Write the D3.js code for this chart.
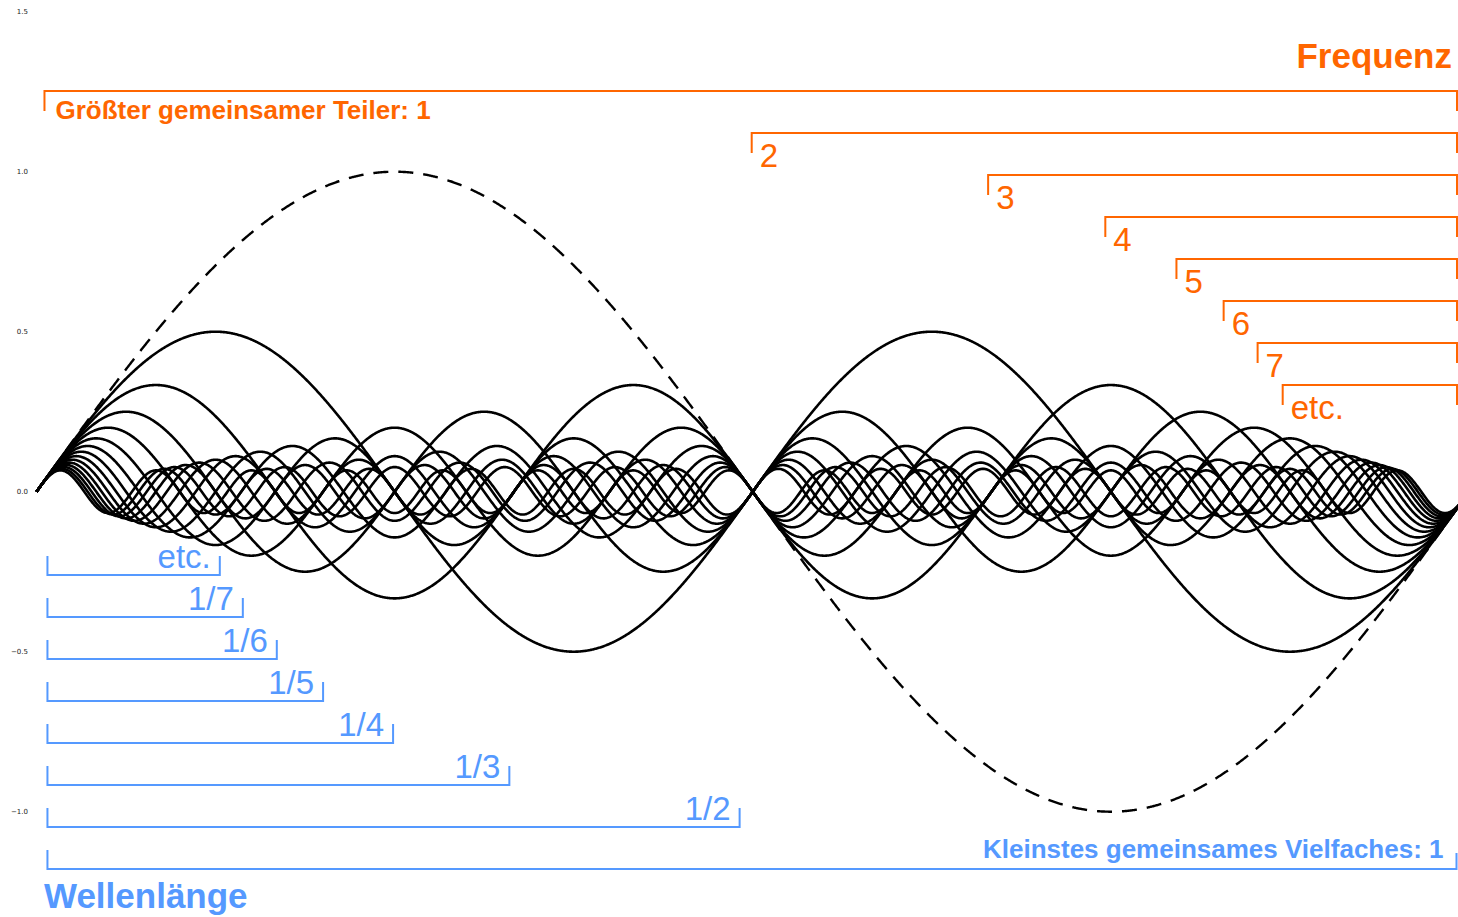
<!DOCTYPE html>
<html><head><meta charset="utf-8">
<script src="https://cdn.jsdelivr.net/npm/d3@7"></script>
<style>body{margin:0;background:#fff;overflow:hidden} svg{display:block}</style>
</head><body>
<script>
// ---- data ----
const harmonics = [1,2,3,4,5,6,7,8,9,10,11,12,13,14,15];   // y = sin(n x) / n
const yTicks = [1.5, 1.0, 0.5, 0.0, -0.5, -1.0];
const freqLabels = ["Größter gemeinsamer Teiler: 1","2","3","4","5","6","7","etc."];
const freqStart  = [0.035, 3.137, 4.174, 4.688, 5.000, 5.207, 5.356, 5.466]; // radians
const waveLabels = ["Kleinstes gemeinsames Vielfaches: 1","1/2","1/3","1/4","1/5","1/6","1/7","etc."];
const waveEnd    = [6.239, 3.084, 2.074, 1.564, 1.257, 1.054, 0.905, 0.804]; // radians
const bracketRight = 6.239;
const waveLeft = 0.048;
const titleFreq = "Frequenz";
const titleWave = "Wellenlänge";

// ---- layout ----
const W = 1458, H = 917;
const ORANGE = "#ff6600", BLUE = "#5599ff";
const svg = d3.select("body").append("svg").attr("width", W).attr("height", H);

const x = d3.scaleLinear().domain([0, 2*Math.PI]).range([36.5, 1469]);
const y = d3.scaleLinear().domain([-1.5, 1.5]).range([971.7, 11.7]);

// y axis labels only
const ax = svg.append("g").attr("transform", "translate(28,0)")
  .call(d3.axisLeft(y).tickValues(yTicks).tickSize(0).tickPadding(0).tickFormat(d3.format(".1f")));
ax.select(".domain").remove();
ax.selectAll("text").attr("font-family", "DejaVu Sans").attr("font-size", 7).attr("fill", "#222");

// curves
const samples = d3.range(0, 2001).map(i => i / 2000 * 2 * Math.PI);
const line = d3.line().x(d => x(d[0])).y(d => y(d[1]));
svg.append("g").selectAll("path").data(harmonics).join("path")
  .attr("d", n => line(samples.map(t => [t, Math.sin(n * t) / n])))
  .attr("fill", "none")
  .attr("stroke", "#000")
  .attr("stroke-width", n => n === 1 ? 2.4 : 2.6)
  .attr("stroke-dasharray", n => n === 1 ? "15,10" : null);

// orange (frequency) brackets
const fg = svg.append("g");
freqStart.forEach((s, i) => {
  const yy = 91 + 42 * i;
  const x0 = x(s), x1 = Math.min(x(bracketRight), W - 1);
  fg.append("path")
    .attr("d", `M${x0},${yy + 20}V${yy}H${x1}V${yy + 20}`)
    .attr("fill", "none").attr("stroke", ORANGE).attr("stroke-width", 2);
  fg.append("text")
    .attr("x", x0 + (i === 0 ? 11 : 8))
    .attr("y", yy + (i === 0 ? 28 : 34))
    .attr("font-family", "Liberation Sans, Arial, sans-serif")
    .attr("font-size", i === 0 ? 26 : 33)
    .attr("font-weight", i === 0 ? "bold" : "normal")
    .attr("fill", ORANGE)
    .text(freqLabels[i]);
});
fg.append("text").attr("x", 1452).attr("y", 68).attr("text-anchor", "end")
  .attr("font-family", "Liberation Sans, Arial, sans-serif").attr("font-size", 35)
  .attr("font-weight", "bold").attr("fill", ORANGE).text(titleFreq);

// blue (wavelength) brackets
const bg = svg.append("g");
waveEnd.forEach((e, i) => {
  const yy = 869 - 42 * i;
  const x0 = x(waveLeft), x1 = Math.min(x(e), W - 1.5);
  const hl = i === 0 ? 16 : 19;
  bg.append("path")
    .attr("d", `M${x0},${yy - 19}V${yy}H${x1}V${yy - hl}`)
    .attr("fill", "none").attr("stroke", BLUE).attr("stroke-width", 2);
  bg.append("text")
    .attr("x", x1 - (i === 0 ? 13 : 9))
    .attr("y", yy - (i === 0 ? 11 : 7))
    .attr("text-anchor", "end")
    .attr("font-family", "Liberation Sans, Arial, sans-serif")
    .attr("font-size", i === 0 ? 26 : 33)
    .attr("font-weight", i === 0 ? "bold" : "normal")
    .attr("fill", BLUE)
    .text(waveLabels[i]);
});
bg.append("text").attr("x", 44).attr("y", 908)
  .attr("font-family", "Liberation Sans, Arial, sans-serif").attr("font-size", 35)
  .attr("font-weight", "bold").attr("fill", BLUE).text(titleWave);
</script>
</body></html>
